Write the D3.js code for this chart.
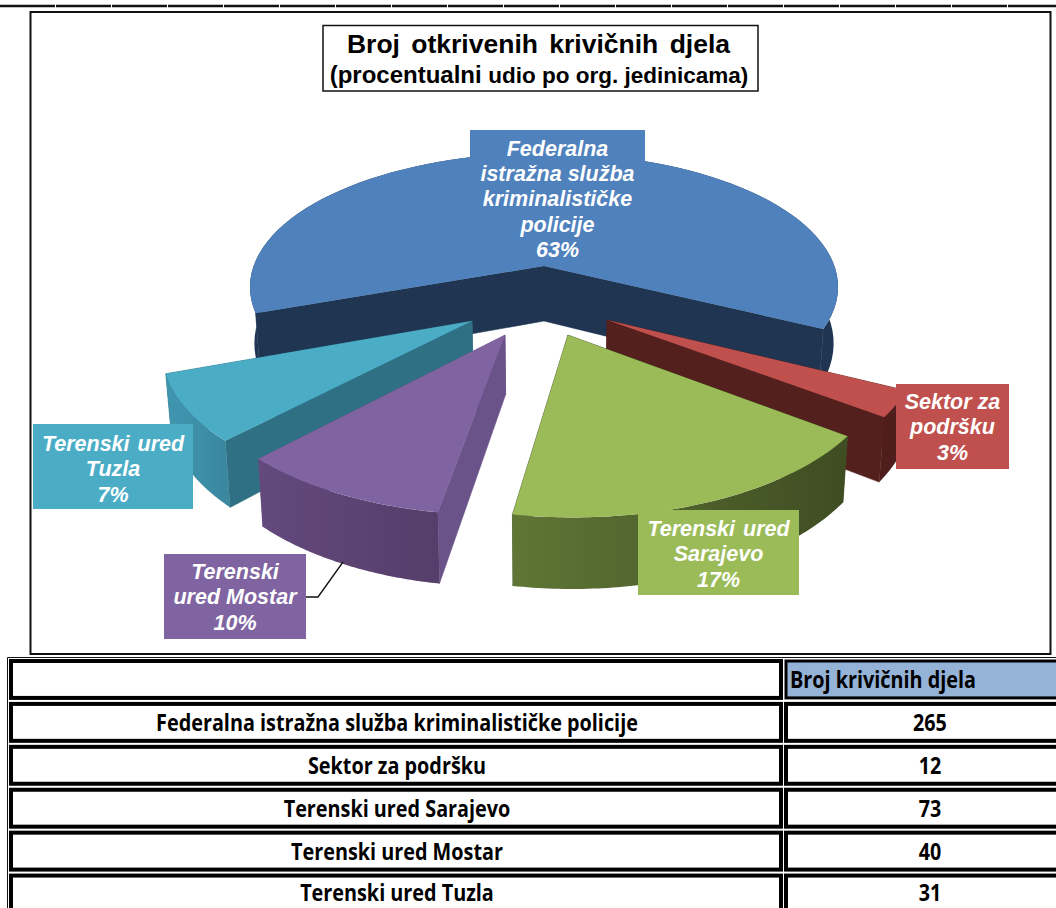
<!DOCTYPE html>
<html><head><meta charset="utf-8">
<script src="https://cdn.jsdelivr.net/npm/d3@7/dist/d3.min.js"></script>
<style>html,body{margin:0;padding:0;background:#fff;overflow:hidden}svg{display:block}</style>
</head><body>
<svg id="c" width="1056" height="908"></svg>
<script>
// ---------- data ----------
const categories = ["Federalna istražna služba kriminalističke policije","Sektor za podršku","Terenski ured Sarajevo","Terenski ured Mostar","Terenski ured Tuzla"];
const counts = [265,12,73,40,31];
const percentLabels = ["63%","3%","17%","10%","7%"];
const valueHeader = "Broj krivičnih djela";
const titleLine1 = "Broj otkrivenih krivičnih djela";
const titleLine2a = "(procentualni";
const titleLine2b = "udio po org. jedinicama)";
const labelLines = [["Federalna","istražna služba","kriminalističke","policije"],["Sektor za","podršku"],["Terenski ured","Sarajevo"],["Terenski","ured Mostar"],["Terenski ured","Tuzla"]];

// ---------- styles / layout ----------
const topColors  = ["#4f81bd","#c0504d","#9bbb59","#8064a2","#4bacc6"];
const sideColors = ["#1f3552","#54201d","#3f4d22","#6a5389","#2f7085"];
const rimLeft    = ["#1f3552","#4f1e1c","#5f7636","#63497c","#4095ae"];
const rimRight   = ["#1f3552","#4f1e1c","#3f4d22","#553e6a","#3a879f"];
const explode = [[0,0],[.204,.388],[.076,.488],[-.124,.488],[-.2326,.395]]; // ground-plane slice offset
const sliceRadius = [1,.985,.99,.98,.98];
const drawOrder = [0,1,4,3,2];
const labelBoxes = [[470,130,175,135],[896,384,113,85],[638,510,161,85],[164,554,142,85],[33,424,160,85]];
const labelMidY = [148,401,528,571,443];
const lineGap = [25.4,25.5,25.5,25.5,25.5];
const deg = Math.PI/180;
const cx=544, cy=266, P=.1567, D=55, shrink=.985;
const sx=d3.scaleLinear().domain([-1,1]).range([cx-290.4,cx+290.4]);
const sy=d3.scaleLinear().domain([-1,1]).range([cy-130.7,cy+130.7]);
const project=(X,Y,bottom)=>{
  const w=1-P*Y, x=(sx(X)-cx)/w, y=(sy(Y)-cy)/w;
  return bottom ? [cx+x*shrink, cy+y+D/w] : [cx+x, cy+y];
};
const svg=d3.select("#c"), defs=svg.append("defs");
const line=d3.line();
const pie=d3.pie().sort(null).startAngle(-110*deg).endAngle(250*deg)(counts);

// top dashed rule and chart frame
svg.append("line").attr("x1",0).attr("x2",1056).attr("y1",6).attr("y2",6).attr("stroke","#111").attr("stroke-width",2.4).attr("stroke-dasharray","55 1");
svg.append("rect").attr("x",30.5).attr("y",12).attr("width",1020).attr("height",642).attr("fill","#fff").attr("stroke","#111").attr("stroke-width",2);

// slices
function ground(i,a,r){return [explode[i][0]+r*Math.sin(a), explode[i][1]-r*Math.cos(a)];}
drawOrder.forEach(i=>{
  const s=pie[i], r=sliceRadius[i], n=80, g=svg.append("g").attr("class","slice");
  const arc=d3.range(n+1).map(k=>ground(i,s.startAngle+(s.endAngle-s.startAngle)*k/n,r));
  const ap=explode[i];
  const topArc=arc.map(p=>project(p[0],p[1],false)), botArc=arc.map(p=>project(p[0],p[1],true));
  const apT=project(ap[0],ap[1],false), apB=project(ap[0],ap[1],true);
  // side walls first
  g.append("path").attr("d",line([apT,topArc[0],botArc[0],apB])+"Z").attr("fill",sideColors[i]).attr("stroke",sideColors[i]).attr("stroke-width",.6);
  g.append("path").attr("d",line([apT,topArc[n],botArc[n],apB])+"Z").attr("fill",sideColors[i]).attr("stroke",sideColors[i]).attr("stroke-width",.6);
  // rim
  const id="rim"+i, xs=botArc.map(p=>p[0]);
  const gr=defs.append("linearGradient").attr("id",id).attr("gradientUnits","userSpaceOnUse")
    .attr("x1",d3.min(xs)).attr("x2",d3.max(xs)).attr("y1",0).attr("y2",0);
  gr.append("stop").attr("offset",0).attr("stop-color",rimLeft[i]);
  gr.append("stop").attr("offset",1).attr("stop-color",rimRight[i]);
  g.append("path").attr("d",line(topArc.concat(botArc.slice().reverse()))+"Z").attr("fill",`url(#${id})`);
  // top face
  g.append("path").attr("d",line([apT].concat(topArc))+"Z").attr("fill",topColors[i]);
});

// leader line for Mostar
svg.append("path").attr("d",line([[306,597],[318,597],[343,562]])).attr("fill","none").attr("stroke","#111").attr("stroke-width",1.3);

// data labels
categories.forEach((c,i)=>{
  const b=labelBoxes[i], g=svg.append("g");
  g.append("rect").attr("x",b[0]).attr("y",b[1]).attr("width",b[2]).attr("height",b[3]).attr("fill",topColors[i]);
  labelLines[i].concat(percentLabels[i]).forEach((t,k)=>{
    g.append("text").attr("x",b[0]+b[2]/2).attr("y",labelMidY[i]+k*lineGap[i]).attr("dy","0.35em")
      .attr("text-anchor","middle").attr("fill","#fff")
      .attr("font-family","'Liberation Sans',Arial,sans-serif").attr("font-weight","bold").attr("font-style","italic")
      .attr("font-size",21.5).attr("word-spacing",t.startsWith("Terenski ")?2:0).text(t);
  });
});

// title
svg.append("rect").attr("x",323).attr("y",25.5).attr("width",435).attr("height",65.5).attr("fill","#fff").attr("stroke","#111").attr("stroke-width",1.5);
svg.append("text").attr("x",538.5).attr("y",53).attr("text-anchor","middle").attr("font-family","'Liberation Sans',Arial,sans-serif")
  .attr("font-weight","bold").attr("font-size",26.5).attr("word-spacing",4).text(titleLine1);
const t2=svg.append("text").attr("x",539).attr("y",83).attr("text-anchor","middle").attr("font-family","'Liberation Sans',Arial,sans-serif").attr("font-weight","bold");
t2.append("tspan").attr("font-size",24).text(titleLine2a+" ");
t2.append("tspan").attr("font-size",22.5).text(titleLine2b);

// table
const rowLabels=[""].concat(categories);
const rows=d3.scaleBand().domain(d3.range(rowLabels.length)).range([658,915.5]);
const tableFont="'Open Sans','Noto Sans',sans-serif";
function squeezed(sel,f){sel.each(function(){this.setAttribute("textLength",this.getComputedTextLength()*f);this.setAttribute("lengthAdjust","spacingAndGlyphs");});}
svg.append("path").attr("d","M7.5,908V657.5H1056").attr("fill","none").attr("stroke","#111").attr("stroke-width",1);
rowLabels.forEach((lab,i)=>{
  const y=rows(i)+3, h=rows.bandwidth()-6;
  const ty=Math.min(y+h/2,892);
  svg.append("rect").attr("x",11).attr("y",y).attr("width",770).attr("height",h).attr("fill","#fff").attr("stroke","#000").attr("stroke-width",4);
  svg.append("rect").attr("x",786).attr("y",y).attr("width",280).attr("height",h).attr("fill",i?"#fff":"#95b3d7").attr("stroke","#000").attr("stroke-width",i?4:3);
  if(i===0){
    svg.append("text").attr("x",790).attr("y",ty).attr("dy","0.36em").attr("font-family",tableFont).attr("font-weight",700).attr("font-size",24).text(valueHeader).call(squeezed,.825);
  } else {
    svg.append("text").attr("x",397).attr("y",ty).attr("dy","0.36em").attr("text-anchor","middle").attr("font-family",tableFont).attr("font-weight",700).attr("font-size",24).text(lab).call(squeezed,.825);
    svg.append("text").attr("x",930).attr("y",ty).attr("dy","0.36em").attr("text-anchor","middle").attr("font-family",tableFont).attr("font-weight",700).attr("font-size",24).text(counts[i-1]).call(squeezed,.82);
  }
});
</script>
</body></html>
